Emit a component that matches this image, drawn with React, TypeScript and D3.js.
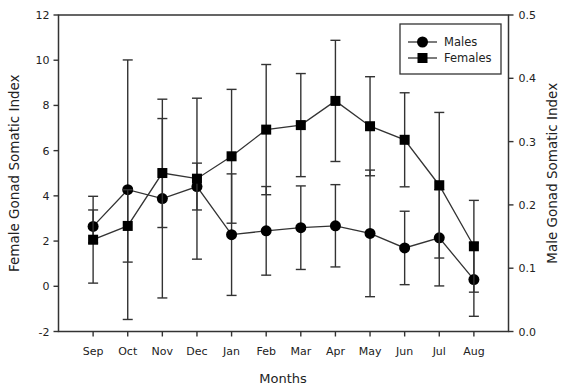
import React from "react";
import * as d3 from "d3";

const months = ["Sep", "Oct", "Nov", "Dec", "Jan", "Feb", "Mar", "Apr", "May", "Jun", "Jul", "Aug"];
const femaleGSI = [2.06, 2.67, 5.01, 4.76, 5.75, 6.93, 7.13, 8.2, 7.08, 6.48, 4.47, 1.77];
const femaleErr = [1.92, 1.6, 2.41, 3.56, 2.96, 2.88, 2.28, 2.68, 2.19, 2.08, 3.22, 2.03];
const maleGSI = [0.166, 0.224, 0.21, 0.229, 0.153, 0.159, 0.164, 0.167, 0.155, 0.132, 0.148, 0.082];
const maleErr = [0.026, 0.205, 0.157, 0.037, 0.096, 0.07, 0.066, 0.065, 0.1, 0.058, 0.076, 0.058];
const leftTicks = [-2, 0, 2, 4, 6, 8, 10, 12];
const rightTicks = [0.0, 0.1, 0.2, 0.3, 0.4, 0.5];

const W = 562;
const H = 388;
const L = 58.5, R = 508.5, T = 15, B = 331.5;
const FONT = "'DejaVu Sans', Verdana, sans-serif";
const INK = "#333";
const TXT = "#222";

export default function App() {
  const x = d3.scaleLinear().domain([0, 13]).range([L, R]);
  const yL = d3.scaleLinear().domain([-2, 12]).range([B, T]);
  const yR = d3.scaleLinear().domain([0, 0.5]).range([B, T]);

  const lineGen = (ys: number[], scale: d3.ScaleLinear<number, number>) =>
    d3.line<number>().x((_, i) => x(i + 1)).y((v) => scale(v))(ys) || "";

  const errBars = (vals: number[], errs: number[], scale: d3.ScaleLinear<number, number>, key: string) =>
    vals.map((v, i) => {
      const cx = x(i + 1);
      const top = scale(v + errs[i]);
      const bot = scale(v - errs[i]);
      return (
        <g key={key + i} stroke={INK} strokeWidth={1.4}>
          <line x1={cx} x2={cx} y1={top} y2={bot} />
          <line x1={cx - 5} x2={cx + 5} y1={top} y2={top} />
          <line x1={cx - 5} x2={cx + 5} y1={bot} y2={bot} />
        </g>
      );
    });

  return (
    <svg width={W} height={H} style={{ position: "absolute", left: 0, top: 0, background: "#fff" }} fontFamily={FONT}>
      <rect x={0} y={0} width={W} height={H} fill="#fff" />
      {/* frame */}
      <rect x={L} y={T} width={R - L} height={B - T} fill="none" stroke={INK} strokeWidth={1.5} />
      {/* left axis */}
      {leftTicks.map((t) => (
        <g key={"l" + t}>
          <line x1={L - 5} x2={L} y1={yL(t)} y2={yL(t)} stroke={INK} strokeWidth={1.4} />
          <text x={L - 9} y={yL(t) + 4} textAnchor="end" fontSize={11} fill={TXT}>{t}</text>
        </g>
      ))}
      {/* right axis */}
      {rightTicks.map((t) => (
        <g key={"r" + t}>
          <line x1={R} x2={R + 5} y1={yR(t)} y2={yR(t)} stroke={INK} strokeWidth={1.4} />
          <text x={R + 10} y={yR(t) + 4} textAnchor="start" fontSize={11} fill={TXT}>{t.toFixed(1)}</text>
        </g>
      ))}
      {/* x axis */}
      {months.map((m, i) => (
        <g key={"m" + m}>
          <line x1={x(i + 1)} x2={x(i + 1)} y1={B} y2={B + 5} stroke={INK} strokeWidth={1.4} />
          <text x={x(i + 1)} y={355} textAnchor="middle" fontSize={11} fill={TXT}>{m}</text>
        </g>
      ))}
      <text x={283} y={383} textAnchor="middle" fontSize={13} fill={TXT}>Months</text>
      <text transform={`translate(19,${(T + B) / 2}) rotate(-90)`} textAnchor="middle" fontSize={13.5} fill={TXT}>
        Female Gonad Somatic Index
      </text>
      <text transform={`translate(557,${(T + B) / 2}) rotate(-90)`} textAnchor="middle" fontSize={13.5} fill={TXT}>
        Male Gonad Somatic Index
      </text>

      {/* males */}
      {errBars(maleGSI, maleErr, yR, "me")}
      <path d={lineGen(maleGSI, yR)} fill="none" stroke={INK} strokeWidth={1.3} />
      {maleGSI.map((v, i) => (
        <circle key={"mc" + i} cx={x(i + 1)} cy={yR(v)} r={5.5} fill="#000" />
      ))}

      {/* females */}
      {errBars(femaleGSI, femaleErr, yL, "fe")}
      <path d={lineGen(femaleGSI, yL)} fill="none" stroke={INK} strokeWidth={1.3} />
      {femaleGSI.map((v, i) => (
        <rect key={"fs" + i} x={x(i + 1) - 5} y={yL(v) - 5} width={10} height={10} fill="#000" />
      ))}

      {/* legend */}
      <rect x={400} y={24} width={101} height={50} fill="#fff" stroke={INK} strokeWidth={1.3} />
      <line x1={408} x2={437} y1={42} y2={42} stroke={INK} strokeWidth={1.3} />
      <circle cx={422.5} cy={42} r={5.5} fill="#000" />
      <text x={444} y={46} fontSize={11.5} fill={TXT}>Males</text>
      <line x1={408} x2={437} y1={58} y2={58} stroke={INK} strokeWidth={1.3} />
      <rect x={417.5} y={53} width={10} height={10} fill="#000" />
      <text x={444} y={62} fontSize={11.5} fill={TXT}>Females</text>
    </svg>
  );
}
